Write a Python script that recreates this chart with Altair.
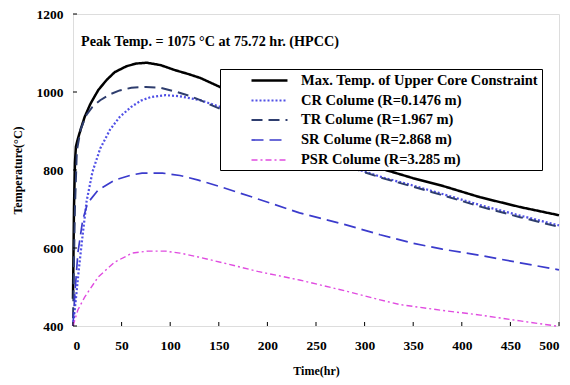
import altair as alt
import pandas as pd

series_names = [
    "Max. Temp. of Upper Core Constraint",
    "CR Colume (R=0.1476 m)",
    "TR Colume (R=1.967 m)",
    "SR Colume (R=2.868 m)",
    "PSR Colume (R=3.285 m)",
]

max_t = [0, 1, 2, 3, 5, 8, 12, 18, 26, 35, 43, 55, 65, 76, 90, 105, 120, 131, 151, 175, 200, 225, 250, 275, 300, 319, 350, 378, 419, 460, 500]
max_T = [470, 700, 820, 860, 880, 905, 936, 970, 1005, 1032, 1051, 1066, 1073, 1075, 1069, 1056, 1045, 1036, 1013, 985, 952, 918, 885, 853, 822, 802, 779, 761, 730, 705, 684]

cr_t = [0, 3, 6, 10, 14, 20, 28, 38, 48, 60, 70, 80, 95, 110, 131, 151, 175, 200, 225, 250, 275, 295, 320, 350, 378, 419, 460, 500]
cr_T = [400, 470, 545, 635, 720, 795, 855, 903, 936, 962, 978, 987, 992, 989, 979, 962, 938, 910, 882, 853, 825, 800, 780, 760, 740, 710, 683, 658]

tr_t = [0, 2, 4, 8, 14, 20, 28, 38, 48, 60, 75, 90, 107, 120, 131, 151, 175, 200, 225, 250, 275, 295, 320, 350, 378, 419, 460, 500]
tr_T = [420, 700, 850, 905, 942, 962, 979, 994, 1004, 1011, 1013, 1011, 1000, 990, 979, 957, 933, 906, 879, 851, 823, 798, 778, 757, 737, 706, 679, 654]

sr_t = [0, 1, 2, 5, 10, 15, 26, 43, 60, 71, 92, 110, 129, 153, 190, 233, 280, 316, 350, 380, 419, 460, 500]
sr_T = [405, 440, 485, 587, 672, 715, 749, 774, 787, 792, 792, 786, 774, 756, 726, 690, 660, 634, 612, 597, 581, 562, 544]

psr_t = [0, 5, 12, 26, 43, 61, 77, 95, 110, 129, 156, 190, 233, 280, 316, 336, 380, 419, 460, 500]
psr_T = [400, 441, 474, 526, 564, 587, 592, 592, 587, 577, 561, 540, 518, 490, 467, 455, 440, 428, 413, 399]

x_ticks = [0, 50, 100, 150, 200, 250, 300, 350, 400, 450, 500]
y_ticks = [400, 600, 800, 1000, 1200]

colors = ["#000000", "#5050e6", "#2e3d6e", "#3b3bcc", "#e04ce0"]
dashes = [[1, 0], [2, 2], [11, 6], [12, 6], [6, 3, 2, 3]]
widths = [2.5, 1.4, 1.5, 1.6, 1.4]

rows = []
for name, ts, vs in zip(series_names, [max_t, cr_t, tr_t, sr_t, psr_t], [max_T, cr_T, tr_T, sr_T, psr_T]):
    for t, v in zip(ts, vs):
        rows.append({"series": name, "t": t, "T": v})
df = pd.DataFrame(rows)

FONT = "Liberation Serif"

leg = alt.Legend(
    title=None,
    orient="none",
    legendX=147,
    legendY=55,
    symbolType="M-1,0H4.14",
    symbolSize=196,
    symbolOffset=27,
    rowPadding=5,
    padding=3,
    labelFont=FONT,
    labelFontWeight="bold",
    labelFontSize=14.5,
    labelColor="black",
    labelLimit=400,
    labelOffset=34,
    labelExpr="datum.label + '\u00a0\u00a0\u00a0\u00a0\u00a0'",
    strokeColor="black",
    fillColor="white",
)

xscale = alt.Scale(domain=[0, 500], nice=False)
yscale = alt.Scale(domain=[400, 1200], nice=False)

lines = alt.Chart(df).mark_line().encode(
    x=alt.X("t:Q", scale=xscale, axis=alt.Axis(
        values=x_ticks, title="Time(hr)", grid=False, ticks=False, domain=False, format="d",
        labelFont=FONT, labelFontWeight="bold", labelFontSize=13.5, labelColor="black",
        labelPadding=12, titleFont=FONT, titleFontWeight="bold", titleFontSize=12,
        titleColor="black", titlePadding=14)),
    y=alt.Y("T:Q", scale=yscale, axis=alt.Axis(
        values=y_ticks, title="Temperature(°C)", grid=False, ticks=False, domain=False, format="d",
        labelFont=FONT, labelFontWeight="bold", labelFontSize=13.5, labelColor="black",
        labelPadding=10, titleFont=FONT, titleFontWeight="bold", titleFontSize=12,
        titleColor="black", titlePadding=12)),
    color=alt.Color("series:N", scale=alt.Scale(domain=series_names, range=colors), legend=leg),
    strokeDash=alt.StrokeDash("series:N", scale=alt.Scale(domain=series_names, range=dashes), legend=leg),
    strokeWidth=alt.StrokeWidth("series:N", scale=alt.Scale(domain=series_names, range=widths), legend=leg),
)

xt = alt.Chart(pd.DataFrame({"v": x_ticks})).mark_rule(color="black", strokeWidth=1).encode(
    x=alt.X("v:Q", scale=xscale), y=alt.value(312), y2=alt.value(308))
yt = alt.Chart(pd.DataFrame({"v": y_ticks})).mark_rule(color="black", strokeWidth=1).encode(
    y=alt.Y("v:Q", scale=yscale), x=alt.value(0), x2=alt.value(4))

note = alt.Chart(pd.DataFrame({"txt": ["Peak Temp. = 1075 °C at 75.72 hr. (HPCC)"]})).mark_text(
    align="left", baseline="middle", font=FONT, fontWeight="bold", fontSize=14.2, color="black"
).encode(text="txt:N", x=alt.value(8), y=alt.value(28))

chart = alt.layer(lines, xt, yt, note).properties(
    width=486, height=312,
    autosize=alt.AutoSizeParams(type="none"),
    padding={"left": 73, "top": 14, "right": 11, "bottom": 59},
).configure_view(stroke="black", strokeWidth=1.5).configure(background="white")

chart.save("out.html", embed_options={"renderer": "svg", "actions": False})
